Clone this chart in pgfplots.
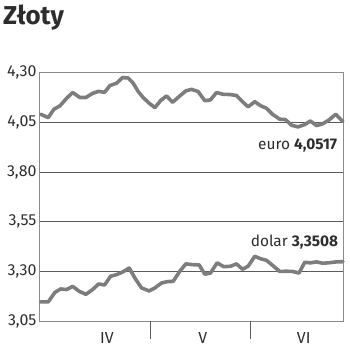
\documentclass[border=0pt]{standalone}
\usepackage{pgfplots}
\pgfplotsset{compat=1.18}
\usepackage{fontspec}
\setmainfont{Fira Sans}
\definecolor{linegray}{RGB}{125,125,125}
\definecolor{gridgray}{RGB}{90,90,90}
\definecolor{txt}{RGB}{45,45,45}
\begin{document}
\begin{tikzpicture}
\begin{axis}[
  name=ax,
  scale only axis,
  width=305bp, height=249bp,
  xmin=39, xmax=344,
  ymin=3.05, ymax=4.30,
  ytick={3.05,3.30,3.55,3.80,4.05,4.30},
  yticklabels={{3,05},{3,30},{3,55},{3,80},{4,05},{4,30}},
  ymajorgrids,
  grid style={gridgray, line width=0.8bp},
  xtick={107,203,304},
  xticklabels={IV,V,VI},
  major tick length=0pt,
  tick pos=left,
  extra x ticks={151,251},
  extra x tick labels={},
  extra x tick style={major tick length=18bp, tick align=outside, tick style={gridgray, line width=0.9bp}, grid=none},
  axis line style={gridgray!70, line width=0.8bp},
  tick label style={font=\fontsize{16}{18}\selectfont, text=txt},
  yticklabel style={xshift=1bp},
  xticklabel style={yshift=-8bp},
  clip=false,
]
\addplot[linegray, line width=3.6bp, line join=round, line cap=round] coordinates {
(40.7,4.090)(48.3,4.073)(54,4.115)(60,4.132)(66.7,4.170)(72.7,4.199)(80,4.174)(86,4.174)(92.7,4.195)(98.7,4.205)(104.7,4.200)(110,4.234)(116.7,4.246)(122.7,4.274)(128.3,4.272)(133.3,4.246)(138.3,4.204)(143.3,4.174)(148.7,4.148)(155,4.123)(160.7,4.158)(166.7,4.182)(172.7,4.150)(180,4.182)(186,4.207)(191.7,4.215)(198.3,4.204)(205,4.158)(210.7,4.162)(216.7,4.199)(223.3,4.190)(230,4.189)(236.7,4.184)(242.7,4.153)(248.3,4.127)(255,4.153)(260.7,4.133)(266.7,4.120)(272.7,4.090)(280,4.065)(285.7,4.063)(291.7,4.035)(298.3,4.026)(305,4.038)(310.7,4.056)(316.7,4.033)(322.7,4.041)(329.3,4.061)(336,4.090)(343.3,4.053)
};
\addplot[linegray, line width=3.6bp, line join=round, line cap=round] coordinates {
(40.7,3.147)(48.3,3.147)(55,3.195)(60.7,3.212)(66.7,3.209)(72.7,3.225)(79.3,3.200)(86,3.185)(92.7,3.209)(98.7,3.237)(104.7,3.232)(110.7,3.276)(116.7,3.284)(122.7,3.297)(129.3,3.317)(135,3.267)(141.7,3.217)(149.3,3.202)(155,3.217)(161.7,3.242)(167.7,3.249)(173.3,3.250)(180,3.301)(186,3.338)(192.7,3.334)(199.3,3.333)(205,3.286)(210.7,3.292)(217.3,3.343)(224,3.324)(230.7,3.326)(236.7,3.338)(242.7,3.311)(248.3,3.326)(255,3.376)(260.7,3.364)(266.7,3.356)(272.7,3.331)(280,3.300)(286.7,3.301)(292.7,3.300)(299.3,3.292)(305,3.346)(310.7,3.343)(316.7,3.348)(323.3,3.341)(330,3.344)(336.7,3.348)(343.3,3.349)
};
\node[anchor=base east, text=txt, font=\fontsize{15.5}{18}\selectfont] at (axis cs:341,3.911) {euro \textbf{4,0517}};
\node[anchor=base east, text=txt, font=\fontsize{15.5}{18}\selectfont] at (axis cs:342,3.426) {dolar \textbf{3,3508}};
\end{axis}
\node[anchor=base west, text=txt, font=\fontsize{26}{30}\selectfont\bfseries, inner sep=0pt] at ([xshift=-36bp,yshift=47.5bp]ax.north west) {Złoty};
\path ([xshift=-39bp,yshift=72.5bp]ax.north west) rectangle ([xshift=6bp,yshift=-32.5bp]ax.south east);
\end{tikzpicture}
\end{document}
